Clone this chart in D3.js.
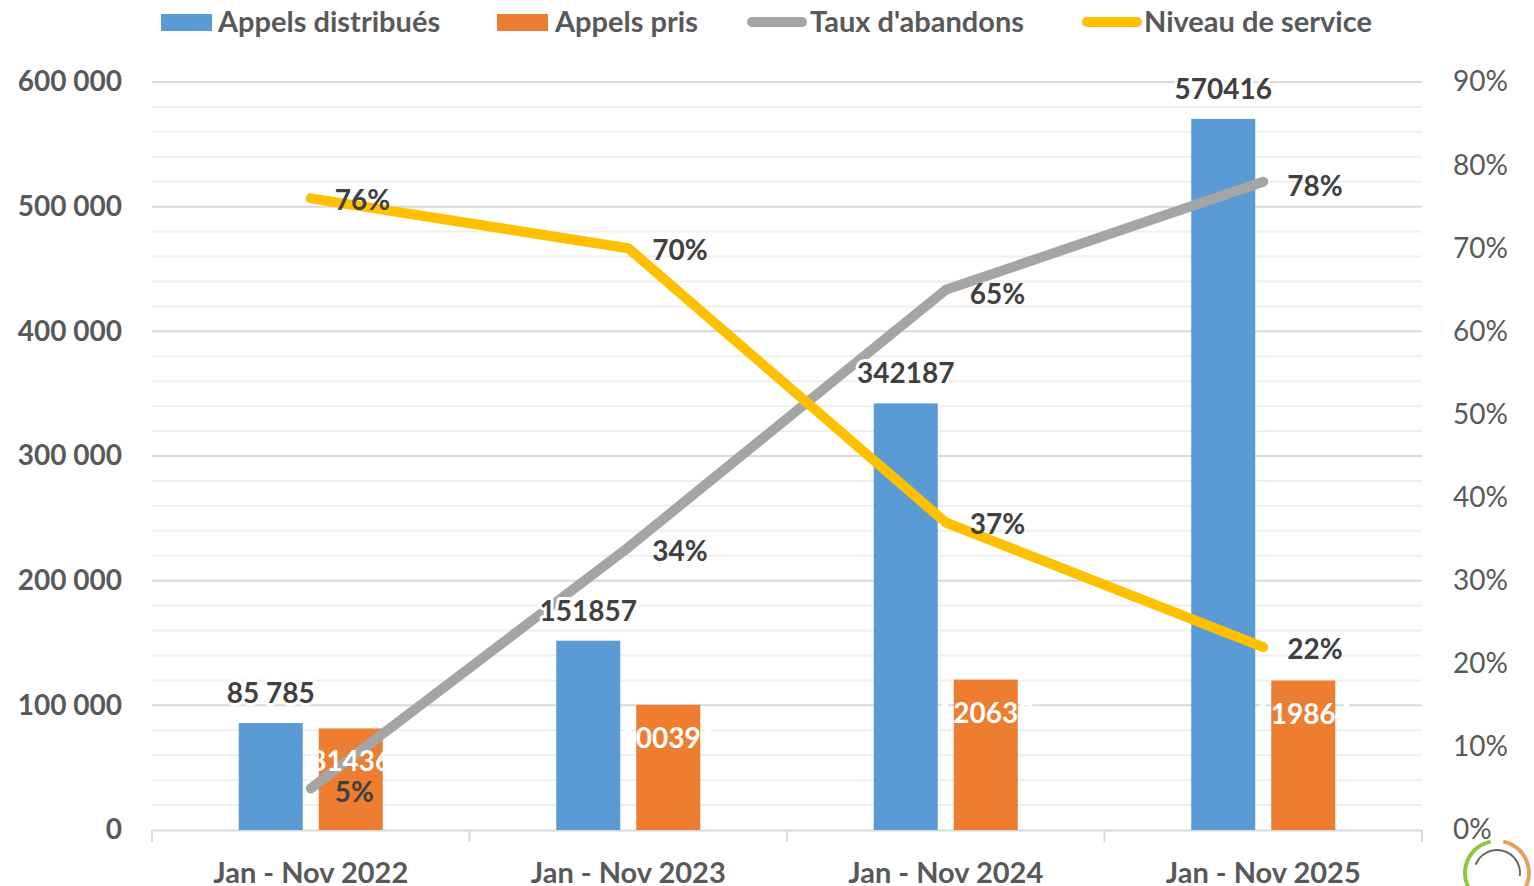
<!DOCTYPE html>
<html>
<head>
<meta charset="utf-8">
<script src="https://cdn.jsdelivr.net/npm/d3@7"></script>
<style>
  body { margin: 0; background: #fff; }
  svg { display: block; font-family: Lato, "Open Sans", sans-serif; }
  .halo { paint-order: stroke; stroke: #fff; stroke-width: 6px; stroke-linejoin: round; }
</style>
</head>
<body>
<div class="canvas"></div>
<script>
var categories = ["Jan - Nov 2022", "Jan - Nov 2023", "Jan - Nov 2024", "Jan - Nov 2025"];
var appelsDistribues = [85785, 151857, 342187, 570416];
var appelsDistribuesLabels = ["85 785", "151857", "342187", "570416"];
var appelsPris = [81436, 100391, 120633, 119864];
var tauxAbandons = [0.05, 0.34, 0.65, 0.78];
var niveauService = [0.76, 0.70, 0.37, 0.22];
var leftTicks = [0, 100000, 200000, 300000, 400000, 500000, 600000];
var rightTicks = [0, 0.1, 0.2, 0.3, 0.4, 0.5, 0.6, 0.7, 0.8, 0.9];

var colors = { dist: "#5b9bd5", pris: "#ed7d31", taux: "#a5a5a5", niveau: "#ffc000", text: "#595959", dark: "#404040" };

var width = 1534, height = 886;
var plotLeft = 152, plotRight = 1422, plotTop = 82, plotBottom = 830;

var svg = d3.select(".canvas").append("svg")
    .attr("width", width)
    .attr("height", height);

var x = d3.scaleBand().domain(categories).range([plotLeft, plotRight]).padding(0);
var xSub = d3.scaleBand().domain(["dist", "pris"]).range([0, x.bandwidth()])
    .paddingInner(0.2).paddingOuter(1.084);
var y = d3.scaleLinear().domain([0, 600000]).range([plotBottom, plotTop]);
var y2 = d3.scaleLinear().domain([0, 0.9]).range([plotBottom, plotTop]);

// minor gridlines
svg.append("g").selectAll("line").data(d3.range(20000, 600001, 20000).filter(function (v) { return v % 100000 != 0; }))
    .enter().append("line")
    .attr("x1", plotLeft).attr("x2", plotRight)
    .attr("y1", function (d) { return y(d); }).attr("y2", function (d) { return y(d); })
    .attr("stroke", "#efefef").attr("stroke-width", 2);

// major gridlines
svg.append("g").selectAll("line").data(leftTicks.slice(1))
    .enter().append("line")
    .attr("x1", plotLeft).attr("x2", plotRight)
    .attr("y1", function (d) { return y(d); }).attr("y2", function (d) { return y(d); })
    .attr("stroke", "#d9d9d9").attr("stroke-width", 2);

// left axis
var fmt = function (d) { return d3.format(",")(d).replace(/,/g, " "); };
var gl = svg.append("g")
    .attr("transform", "translate(" + plotLeft + ",0)")
    .call(d3.axisLeft(y).tickValues(leftTicks).tickSize(0).tickPadding(30).tickFormat(fmt));
gl.select(".domain").remove();
gl.selectAll("text").attr("font-size", 28).attr("font-weight", "bold").attr("fill", colors.text)
    .attr("font-family", "Lato, sans-serif");

// right axis
var gr = svg.append("g")
    .attr("transform", "translate(" + plotRight + ",0)")
    .call(d3.axisRight(y2).tickValues(rightTicks).tickSize(0).tickPadding(31).tickFormat(d3.format(".0%")));
gr.select(".domain").remove();
gr.selectAll("text").attr("font-size", 28).attr("fill", colors.text)
    .attr("font-family", "Lato, sans-serif");

// x axis
var gx = svg.append("g")
    .attr("transform", "translate(0," + plotBottom + ")")
    .call(d3.axisBottom(x).tickSize(0).tickPadding(32));
gx.select(".domain").attr("stroke", "#d9d9d9").attr("stroke-width", 2);
gx.selectAll("text").attr("font-size", 29).attr("font-weight", "bold").attr("fill", colors.text)
    .attr("font-family", "Lato, sans-serif");
svg.append("g").selectAll("line").data(categories.concat(["end"]))
    .enter().append("line")
    .attr("x1", function (d, i) { return i < categories.length ? x(d) : plotRight; })
    .attr("x2", function (d, i) { return i < categories.length ? x(d) : plotRight; })
    .attr("y1", plotBottom).attr("y2", plotBottom + 12)
    .attr("stroke", "#d9d9d9").attr("stroke-width", 2);

// bars
var groups = svg.append("g").selectAll("g").data(categories).enter().append("g")
    .attr("transform", function (d) { return "translate(" + x(d) + ",0)"; });

groups.append("rect")
    .attr("x", xSub("dist")).attr("width", xSub.bandwidth())
    .attr("y", function (d, i) { return y(appelsDistribues[i]); })
    .attr("height", function (d, i) { return plotBottom - y(appelsDistribues[i]); })
    .attr("fill", colors.dist);

groups.append("rect")
    .attr("x", xSub("pris")).attr("width", xSub.bandwidth())
    .attr("y", function (d, i) { return y(appelsPris[i]); })
    .attr("height", function (d, i) { return plotBottom - y(appelsPris[i]); })
    .attr("fill", colors.pris);

// lines
var cx = function (d, i) { return x(categories[i]) + x.bandwidth() / 2; };
var line = d3.line().x(cx).y(function (d) { return y2(d); });

svg.append("path").datum(tauxAbandons)
    .attr("d", line).attr("fill", "none")
    .attr("stroke", colors.taux).attr("stroke-width", 10)
    .attr("stroke-linecap", "round").attr("stroke-linejoin", "round");

svg.append("path").datum(niveauService)
    .attr("d", line).attr("fill", "none")
    .attr("stroke", colors.niveau).attr("stroke-width", 10)
    .attr("stroke-linecap", "round").attr("stroke-linejoin", "round");

// data labels, drawn above the lines
var labels = svg.append("g").selectAll("g").data(categories).enter().append("g")
    .attr("transform", function (d) { return "translate(" + x(d) + ",0)"; });

labels.append("text")
    .attr("class", "halo")
    .attr("x", xSub("dist") + xSub.bandwidth() / 2)
    .attr("y", function (d, i) { return y(appelsDistribues[i]) - 20; })
    .attr("text-anchor", "middle")
    .attr("font-size", 28).attr("font-weight", "bold").attr("fill", colors.dark)
    .text(function (d, i) { return appelsDistribuesLabels[i]; });

labels.append("text")
    .attr("x", xSub("pris") + xSub.bandwidth() / 2)
    .attr("y", function (d, i) { return y(appelsPris[i]) + 43; })
    .attr("text-anchor", "middle")
    .attr("font-size", 28).attr("font-weight", "bold").attr("fill", "#fff")
    .text(function (d, i) { return appelsPris[i]; });

svg.append("g").selectAll("text").data(tauxAbandons).enter().append("text")
    .attr("x", function (d, i) { return cx(d, i) + 24; })
    .attr("y", function (d) { return y2(d) + 14; })
    .attr("font-size", 28).attr("font-weight", "bold").attr("fill", colors.dark)
    .text(function (d) { return d3.format(".0%")(d); });

svg.append("g").selectAll("text").data(niveauService).enter().append("text")
    .attr("x", function (d, i) { return cx(d, i) + 24; })
    .attr("y", function (d) { return y2(d) + 12; })
    .attr("font-size", 28).attr("font-weight", "bold").attr("fill", colors.dark)
    .text(function (d) { return d3.format(".0%")(d); });

// legend
var legend = [
    { name: "Appels distribués", color: colors.dist, type: "rect", x: 161, tx: 218 },
    { name: "Appels pris", color: colors.pris, type: "rect", x: 497, tx: 555 },
    { name: "Taux d'abandons", color: colors.taux, type: "line", x: 752, tx: 810 },
    { name: "Niveau de service", color: colors.niveau, type: "line", x: 1087, tx: 1144 }
];
var lg = svg.append("g").selectAll("g").data(legend).enter().append("g");
lg.filter(function (d) { return d.type == "rect"; }).append("rect")
    .attr("x", function (d) { return d.x; }).attr("y", 14).attr("width", 51).attr("height", 17)
    .attr("fill", function (d) { return d.color; });
lg.filter(function (d) { return d.type == "line"; }).append("line")
    .attr("x1", function (d) { return d.x; }).attr("x2", function (d) { return d.x + 50; })
    .attr("y1", 22).attr("y2", 22)
    .attr("stroke", function (d) { return d.color; }).attr("stroke-width", 10).attr("stroke-linecap", "round");
lg.append("text")
    .attr("x", function (d) { return d.tx; }).attr("y", 32)
    .attr("font-size", 29).attr("font-weight", "bold").attr("fill", colors.text)
    .text(function (d) { return d.name; });

// logo in the corner
var logo = svg.append("g").attr("transform", "translate(1497,873)");
var arc = d3.arc();
logo.append("path").attr("d", arc({ innerRadius: 30, outerRadius: 34, startAngle: -2.6, endAngle: -0.2 })).attr("fill", "#8dc63f");
logo.append("path").attr("d", arc({ innerRadius: 30, outerRadius: 34, startAngle: 0.2, endAngle: 2.4 })).attr("fill", "#e8a060");
logo.append("path").attr("d", arc({ innerRadius: 22, outerRadius: 24, startAngle: -1.2, endAngle: 1.7 })).attr("fill", "#666");
</script>
</body>
</html>
